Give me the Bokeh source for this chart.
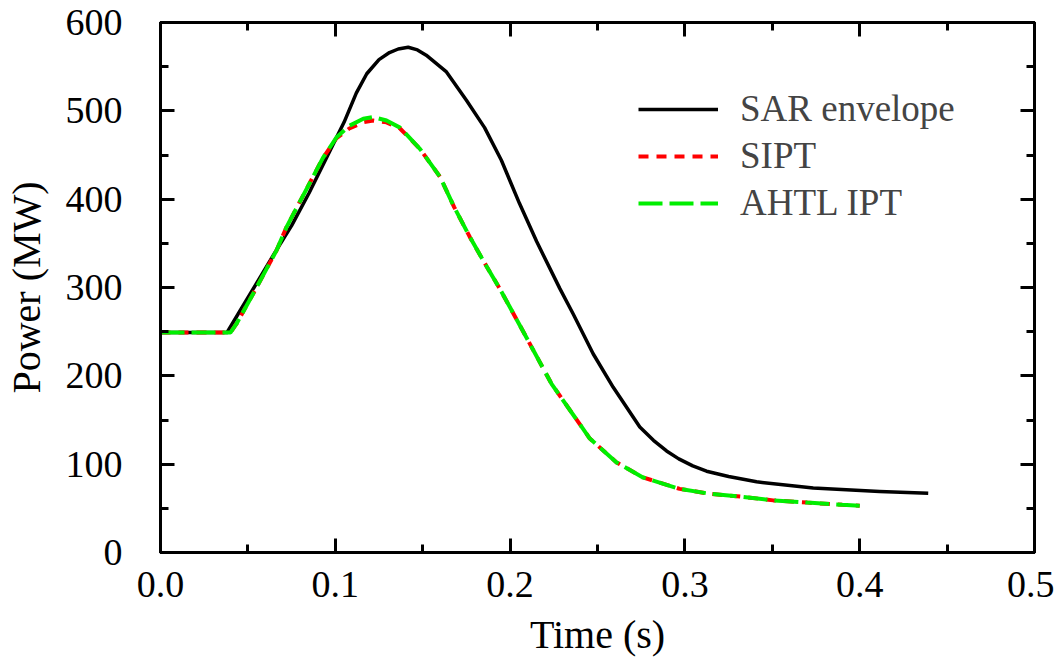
from bokeh.plotting import figure
from bokeh.models import (Range1d, LinearAxis, SingleIntervalTicker, PrintfTickFormatter,
                          CustomJSTickFormatter, Legend, LegendItem)
from bokeh.embed import file_html
from bokeh.resources import INLINE

# ---- data ----
sar_t = [0, 0.038, 0.045, 0.055, 0.065, 0.075, 0.085, 0.095, 0.105, 0.112, 0.118, 0.125,
         0.131, 0.136, 0.1417, 0.147, 0.152, 0.1636, 0.175, 0.1854, 0.195, 0.2054, 0.2152,
         0.2284, 0.2361, 0.2475, 0.259, 0.2742, 0.282, 0.2895, 0.2965, 0.3045, 0.3124, 0.325,
         0.341, 0.3734, 0.4114, 0.4392]
sar_p = [249, 249, 272, 305, 338, 370, 407, 447, 487, 520, 542, 558,
         566, 570, 572, 569, 563, 544, 512, 481, 444, 395, 352,
         299, 270, 225, 187, 142, 127, 115, 106, 98, 92, 86,
         80, 73, 69, 67]

ipt_t = [0, 0.040, 0.0435, 0.053, 0.0664, 0.072, 0.093, 0.1007, 0.108, 0.116, 0.1217, 0.1293,
         0.137, 0.1484, 0.16, 0.168, 0.177, 0.1865, 0.194, 0.2056, 0.2237, 0.2456, 0.2609,
         0.276, 0.297, 0.3142, 0.3333, 0.3505, 0.37, 0.39, 0.40]
sipt_p = [249, 249, 259, 293, 342, 368, 447, 469, 480, 487, 489, 487,
          480, 457, 425, 391, 357, 324, 299, 257, 191, 129, 102,
          85, 72, 66.5, 63, 59, 56.5, 54, 53]
ahtl_p = [249, 249, 259, 293, 342, 368, 447, 470, 483, 491, 493, 489,
          481, 457, 425, 391, 357, 324, 299, 257, 191, 129, 102,
          85, 72, 66.5, 63, 59, 56.5, 54, 53]

x_ticks_interval = 0.1
y_ticks_interval = 100
series_names = ["SAR envelope", "SIPT", "AHTL IPT"]

FONT = "Liberation Serif"

p = figure(frame_width=874, frame_height=530, output_backend="svg", toolbar_location=None,
           x_range=Range1d(0, 0.5), y_range=Range1d(0, 600),
           min_border_left=154, min_border_top=22, min_border_right=20, min_border_bottom=100,
           x_axis_label="Time (s)", y_axis_label="Power (MW)")
p.grid.visible = False
p.outline_line_color = "black"
p.outline_line_width = 3
p.background_fill_color = "white"
p.border_fill_color = "white"

r1 = p.line(sar_t, sar_p, line_color="black", line_width=3.5, line_join="round")
r2 = p.line(ipt_t, sipt_p, line_color="#ff0000", line_width=4, line_dash="10 8")
r3 = p.line(ipt_t, ahtl_p, line_color="#00ee00", line_width=4, line_dash="24 7")

def style_axis(ax, xaxis, show_labels):
    ax.ticker = SingleIntervalTicker(interval=x_ticks_interval if xaxis else y_ticks_interval,
                                     num_minor_ticks=2)
    ax.axis_line_width = 3
    ax.major_tick_line_width = 3
    ax.minor_tick_line_width = 3
    ax.major_tick_in = 14
    ax.major_tick_out = 0
    ax.minor_tick_in = 8
    ax.minor_tick_out = 0
    ax.major_label_text_font = FONT
    ax.axis_label_text_font = FONT
    ax.axis_label_text_font_style = "normal"
    ax.axis_label_text_color = "black"
    ax.major_label_text_color = "black"
    ax.major_label_text_font_size = "38px"
    ax.axis_label_text_font_size = "40px"
    if not show_labels:
        ax.formatter = CustomJSTickFormatter(code="return '';")
        ax.major_label_standoff = 0

xa = p.xaxis[0]
ya = p.yaxis[0]
style_axis(xa, True, True)
style_axis(ya, False, True)
xa.formatter = PrintfTickFormatter(format="%.1f")
xa.major_label_standoff = 19
xa.axis_label_standoff = 12
ya.major_label_standoff = 38
ya.axis_label_standoff = 14

top = LinearAxis()
right = LinearAxis()
style_axis(top, True, False)
style_axis(right, False, False)
p.add_layout(top, "above")
p.add_layout(right, "right")

legend = Legend(items=[LegendItem(label=series_names[0], renderers=[r1]),
                       LegendItem(label=series_names[1], renderers=[r2]),
                       LegendItem(label=series_names[2], renderers=[r3])],
                location=(478, 328))
legend.border_line_color = None
legend.background_fill_alpha = 0
legend.padding = 0
legend.margin = 0
legend.spacing = 4
legend.glyph_width = 80
legend.glyph_height = 40
legend.label_height = 40
legend.label_standoff = 22
legend.label_text_font = FONT
legend.label_text_font_size = "37px"
p.add_layout(legend, "center")

open("out.html", "w").write(file_html(p, INLINE))
